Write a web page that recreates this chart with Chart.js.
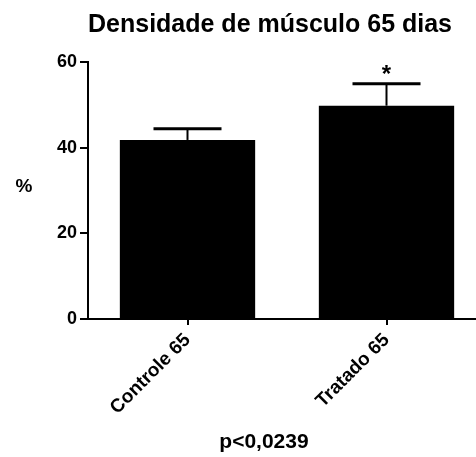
<!DOCTYPE html>
<html lang="pt">
<head>
    <meta charset="UTF-8">
    <title>Densidade de músculo 65 dias</title>
    <script src="https://cdn.jsdelivr.net/npm/chart.js"></script>
    <style>
        html, body { margin: 0; padding: 0; overflow: hidden; background: #fff; }
    </style>
</head>
<body>
    <canvas id="densChart" width="500" height="457"></canvas>

    <script>
        const groups = ['Controle 65', 'Tratado 65'];
        const means = [41.8, 49.8];
        const sem = [2.6, 5.1];
        const marks = ['', '*'];
        const yTicks = [0, 20, 40, 60];

        const FONT = '"Liberation Sans", Arial, sans-serif';

        // title, error bars (upper only), % label, p value and significance star
        const extras = {
            id: 'extras',
            afterDatasetsDraw(chart) {
                const ctx = chart.ctx;
                const x = chart.scales.x, y = chart.scales.y;
                ctx.save();
                ctx.strokeStyle = '#000';
                ctx.fillStyle = '#000';
                means.forEach((m, i) => {
                    const cx = x.getPixelForValue(i);
                    const top = y.getPixelForValue(m + sem[i]);
                    const base = y.getPixelForValue(m);
                    ctx.lineWidth = 2;
                    ctx.beginPath();
                    ctx.moveTo(cx, base);
                    ctx.lineTo(cx, top);
                    ctx.stroke();
                    ctx.lineWidth = 3;
                    ctx.beginPath();
                    ctx.moveTo(cx - 34, top);
                    ctx.lineTo(cx + 34, top);
                    ctx.stroke();
                    if (marks[i]) {
                        ctx.font = 'bold 24px ' + FONT;
                        ctx.textAlign = 'center';
                        ctx.textBaseline = 'middle';
                        ctx.fillText(marks[i], cx, top - 8);
                    }
                });
                ctx.textAlign = 'center';
                ctx.textBaseline = 'middle';
                ctx.font = 'bold 19px ' + FONT;
                ctx.fillText('%', 24, (chart.chartArea.top + chart.chartArea.bottom) / 2 - 4);
                ctx.font = 'bold 21px ' + FONT;
                ctx.fillText('p<0,0239', 264, 442);
                ctx.textBaseline = 'alphabetic';
                ctx.font = 'bold 25px ' + FONT;
                ctx.fillText('Densidade de músculo 65 dias', 270, 32);
                ctx.restore();
            }
        };

        new Chart(document.getElementById('densChart'), {
            type: 'bar',
            data: {
                labels: groups,
                datasets: [{
                    data: means,
                    backgroundColor: '#000',
                    borderWidth: 0,
                    barPercentage: 0.68,
                    categoryPercentage: 1
                }]
            },
            options: {
                responsive: false,
                animation: false,
                layout: { padding: { left: 0, right: 14, top: 62, bottom: 0 } },
                plugins: {
                    legend: { display: false },
                    tooltip: { enabled: false },
                    title: { display: false }
                },
                scales: {
                    y: {
                        min: 0,
                        max: 60,
                        afterBuildTicks: s => { s.ticks = yTicks.map(v => ({ value: v })); },
                        afterFit: s => { s.width = 88; },
                        border: { color: '#000', width: 2 },
                        grid: { drawOnChartArea: false, drawTicks: true, tickLength: 8, color: '#000', lineWidth: 2 },
                        ticks: { color: '#000', padding: 3, font: { family: FONT, size: 18, weight: 'bold' } }
                    },
                    x: {
                        afterFit: s => { s.height = 138; },
                        border: { color: '#000', width: 2 },
                        grid: { offset: false, drawOnChartArea: false, drawTicks: true, tickLength: 6, color: '#000', lineWidth: 2 },
                        ticks: {
                            color: '#000',
                            minRotation: 45,
                            maxRotation: 45,
                            padding: 4,
                            font: { family: FONT, size: 19, weight: 'bold' }
                        }
                    }
                }
            },
            plugins: [extras]
        });
    </script>
</body>
</html>
